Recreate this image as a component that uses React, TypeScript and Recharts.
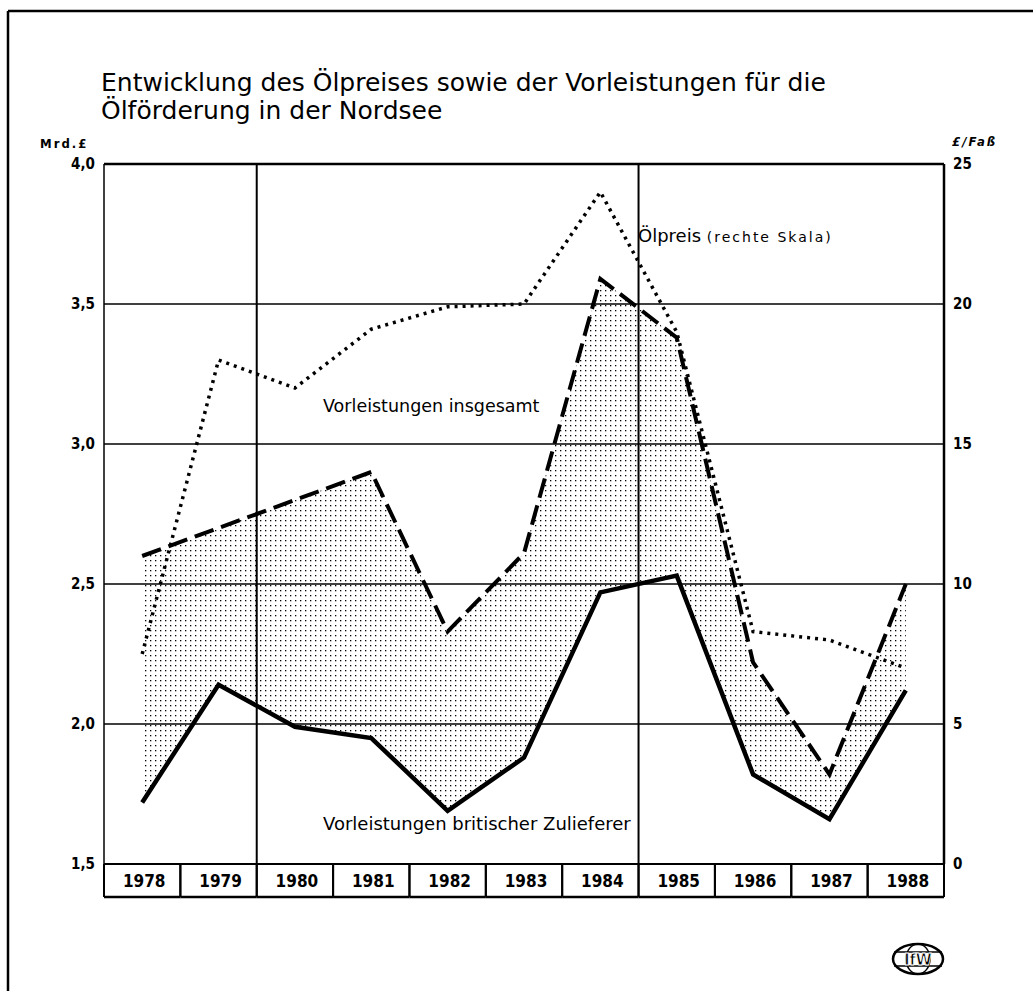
import React from 'react';
import { ComposedChart, Line, Area, XAxis, YAxis, CartesianGrid, ReferenceLine } from 'recharts';

const years = ['1978', '1979', '1980', '1981', '1982', '1983', '1984', '1985', '1986', '1987', '1988'];
const britisch = [1.72, 2.14, 1.99, 1.95, 1.69, 1.88, 2.47, 2.53, 1.82, 1.66, 2.12];
const insgesamt = [2.6, 2.7, 2.8, 2.9, 2.33, 2.61, 3.59, 3.38, 2.22, 1.82, 2.5];
const oelpreis = [7.5, 18.0, 17.0, 19.1, 19.9, 20.0, 24.0, 19.0, 8.3, 8.0, 7.0];
const leftTicks = [1.5, 2, 2.5, 3, 3.5, 4];
const rightTicks = [0, 5, 10, 15, 20, 25];
const gridYears = ['1980', '1985'];

const data = years.map((y, i) => ({
  year: y,
  brit: britisch[i],
  ges: insgesamt[i],
  oel: oelpreis[i],
  range: [britisch[i], insgesamt[i]],
}));

const W = 1033;
const H = 991;
const M = { top: 164, left: 44, right: 29, bottom: 94 };
const AXW = 60;
const PLOT_W = W - M.left - M.right - 2 * AXW;
const BW = PLOT_W / years.length;
const FONT = "'DejaVu Sans Condensed', 'Liberation Sans Narrow', 'DejaVu Sans', sans-serif";
const FONT_W = "'DejaVu Sans', 'Liberation Sans', sans-serif";

const YearTick = (props: any) => {
  const { x, y, payload } = props;
  const l = x - BW / 2;
  const r = x + BW / 2;
  return (
    <g>
      <line x1={l} x2={l} y1={y} y2={y + 33} stroke="#000" strokeWidth={2} />
      <line x1={r} x2={r} y1={y} y2={y + 33} stroke="#000" strokeWidth={2} />
      <line x1={l} x2={r} y1={y + 33} y2={y + 33} stroke="#000" strokeWidth={2.5} />
      <text x={x + 2} y={y + 23} textAnchor="middle" fontFamily={FONT} fontWeight="bold" fontSize={17} fill="#000">
        {payload.value}
      </text>
    </g>
  );
};

const fmtLeft = (v: number) => v.toFixed(1).replace('.', ',');

export default function App() {
  return (
    <div style={{ position: 'absolute', left: 0, top: 0, width: W, height: H, background: '#fff' }}>
      <ComposedChart width={W} height={H} data={data} margin={M}>
        <defs>
          <pattern id="dots" width="5" height="5" patternUnits="userSpaceOnUse">
            <rect x="0" y="0" width="1.3" height="1.3" fill="#000" />
          </pattern>
        </defs>
        <CartesianGrid yAxisId="left" vertical={false} stroke="#000" strokeWidth={1.3} />
        <XAxis
          dataKey="year"
          scale="band"
          tick={<YearTick />}
          tickLine={false}
          tickSize={0}
          tickMargin={0}
          height={33}
          interval={0}
          axisLine={{ stroke: '#000', strokeWidth: 2 }}
        />
        <YAxis
          yAxisId="left"
          domain={[1.5, 4]}
          ticks={leftTicks}
          width={AXW}
          tickFormatter={fmtLeft}
          tickLine={false}
          tickSize={0}
          tickMargin={9}
          axisLine={{ stroke: '#000', strokeWidth: 1.5 }}
          tick={{ fill: '#000', fontSize: 15, fontFamily: FONT, fontWeight: 'bold' }}
        />
        <YAxis
          yAxisId="right"
          orientation="right"
          domain={[0, 25]}
          ticks={rightTicks}
          width={AXW}
          tickLine={false}
          tickSize={0}
          tickMargin={9}
          axisLine={{ stroke: '#000', strokeWidth: 2.5 }}
          tick={{ fill: '#000', fontSize: 15, fontFamily: FONT, fontWeight: 'bold', textAnchor: 'start' }}
        />
        {gridYears.map((g) => (
          <ReferenceLine key={g} x={g} yAxisId="left" position="start" stroke="#000" strokeWidth={2} />
        ))}
        <ReferenceLine y={4} yAxisId="left" stroke="#000" strokeWidth={2.5} />
        <Area
          yAxisId="left"
          dataKey="range"
          type="linear"
          stroke="none"
          fill="url(#dots)"
          fillOpacity={1}
          isAnimationActive={false}
        />
        <Line
          yAxisId="right"
          dataKey="oel"
          type="linear"
          stroke="#000"
          strokeWidth={3.5}
          strokeDasharray="3 5"
          dot={false}
          isAnimationActive={false}
        />
        <Line
          yAxisId="left"
          dataKey="ges"
          type="linear"
          stroke="#000"
          strokeWidth={4}
          strokeDasharray="20 8"
          dot={false}
          isAnimationActive={false}
        />
        <Line
          yAxisId="left"
          dataKey="brit"
          type="linear"
          stroke="#000"
          strokeWidth={4.5}
          dot={false}
          isAnimationActive={false}
        />
      </ComposedChart>
      <svg width={W} height={H} style={{ position: 'absolute', left: 0, top: 0, pointerEvents: 'none' }}>
        <line x1={8} y1={11} x2={W} y2={11} stroke="#000" strokeWidth={2.5} />
        <line x1={8} y1={11} x2={8} y2={H} stroke="#000" strokeWidth={2.5} />
        <text x={101} y={91} fontFamily={FONT_W} fontSize={25} fill="#000">
          Entwicklung des Ölpreises sowie der Vorleistungen für die
        </text>
        <text x={101} y={119} fontFamily={FONT_W} fontSize={25} fill="#000">
          Ölförderung in der Nordsee
        </text>
        <text x={40} y={148} fontFamily={FONT} fontSize={13} fontWeight="bold" letterSpacing={2} fill="#000">Mrd.£</text>
        <text x={952} y={146} fontFamily={FONT} fontSize={13} fontWeight="bold" fontStyle="italic" letterSpacing={2} fill="#000">£/Faß</text>
        <text x={638} y={242} fontFamily={FONT_W} fill="#000">
          <tspan fontSize={18}>Ölpreis </tspan>
          <tspan fontSize={14} letterSpacing={2}>(rechte Skala)</tspan>
        </text>
        <text x={323} y={412} fontFamily={FONT_W} fontSize={17.5} fill="#000">Vorleistungen insgesamt</text>
        <text x={323} y={830} fontFamily={FONT_W} fontSize={18} fill="#000">Vorleistungen britischer Zulieferer</text>
        <g>
          <ellipse cx={918} cy={959} rx={25} ry={15} fill="#fff" stroke="#000" strokeWidth={2.5} />
          <ellipse cx={918} cy={959} rx={12} ry={15} fill="none" stroke="#000" strokeWidth={1.5} />
          <line x1={894} y1={952} x2={942} y2={952} stroke="#000" strokeWidth={1.5} />
          <line x1={894} y1={966} x2={942} y2={966} stroke="#000" strokeWidth={1.5} />
          <text x={918} y={965} textAnchor="middle" fontFamily={FONT} fontWeight="bold" fontSize={16} fill="#000" stroke="#fff" strokeWidth={0.8}>IfW</text>
        </g>
      </svg>
    </div>
  );
}
